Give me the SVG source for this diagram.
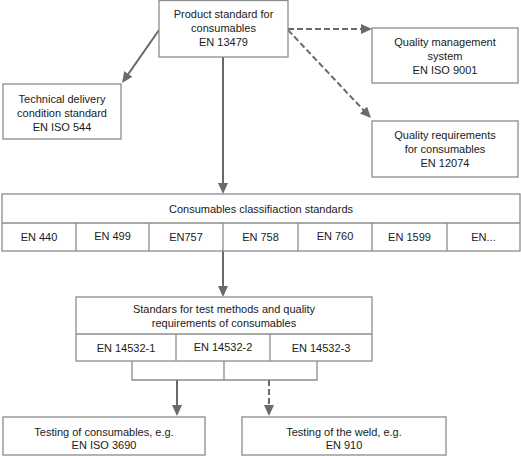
<svg xmlns="http://www.w3.org/2000/svg" width="521" height="456" viewBox="0 0 521 456">
<style>
  .box { fill: #ffffff; stroke: #8c8c8c; stroke-width: 1.3; }
  .div { stroke: #8c8c8c; stroke-width: 1.3; fill: none; }
  .conn { stroke: #6a6a6a; stroke-width: 2; fill: none; }
  .dash { stroke-dasharray: 6,3; }
  text { font-family: "Liberation Sans", Arial, sans-serif; font-size: 11px; fill: #1a1a1a; text-anchor: middle; }
</style>
<defs>
  <marker id="ah" markerUnits="userSpaceOnUse" markerWidth="11" markerHeight="10" refX="2" refY="5" orient="auto">
    <path d="M0,0 L11,5 L0,10 z" fill="#6a6a6a"/>
  </marker>
</defs>
<rect width="521" height="456" fill="#ffffff"/>

<g id="connectors">
  <line class="conn" x1="159" y1="30" x2="127.2" y2="75.6" marker-end="url(#ah)"/>
  <line class="conn dash" x1="288" y1="29" x2="363" y2="29" marker-end="url(#ah)"/>
  <line class="conn dash" x1="288" y1="30" x2="364.8" y2="111.5" marker-end="url(#ah)"/>
  <line class="conn" x1="223" y1="57" x2="223" y2="185" marker-end="url(#ah)"/>
  <line class="conn" x1="223" y1="251" x2="223" y2="288" marker-end="url(#ah)"/>
  <path class="div" d="M132,361 V380 H317 V361 M224,361 V380"/>
  <line class="conn" x1="177" y1="380" x2="177" y2="407" marker-end="url(#ah)"/>
  <line class="conn dash" x1="269" y1="380" x2="269" y2="407" marker-end="url(#ah)"/>
</g>

<g id="product-standard">
  <rect class="box" x="159" y="0.5" width="129" height="56.5"/>
  <text x="223.5" y="18">Product standard for</text>
  <text x="223.5" y="32">consumables</text>
  <text x="223.5" y="46">EN 13479</text>
</g>

<g id="technical-delivery">
  <rect class="box" x="3" y="84" width="118" height="55"/>
  <text x="62" y="103">Technical delivery</text>
  <text x="62" y="117">condition standard</text>
  <text x="62" y="131">EN ISO 544</text>
</g>

<g id="quality-management">
  <rect class="box" x="372" y="28" width="146" height="55"/>
  <text x="445" y="46">Quality management</text>
  <text x="445" y="60">system</text>
  <text x="445" y="74">EN ISO 9001</text>
</g>

<g id="quality-requirements">
  <rect class="box" x="372" y="121" width="146" height="56"/>
  <text x="445" y="139">Quality requirements</text>
  <text x="445" y="153">for consumables</text>
  <text x="445" y="167">EN 12074</text>
</g>

<g id="classification">
  <rect class="box" x="2" y="194" width="518" height="57"/>
  <line class="div" x1="2" y1="223" x2="520" y2="223"/>
  <line class="div" x1="76" y1="223" x2="76" y2="251"/>
  <line class="div" x1="149" y1="223" x2="149" y2="251"/>
  <line class="div" x1="223" y1="223" x2="223" y2="251"/>
  <line class="div" x1="298" y1="223" x2="298" y2="251"/>
  <line class="div" x1="372" y1="223" x2="372" y2="251"/>
  <line class="div" x1="447" y1="223" x2="447" y2="251"/>
  <text x="261" y="213">Consumables classifiaction standards</text>
  <text x="39" y="241">EN 440</text>
  <text x="112.5" y="240">EN 499</text>
  <text x="186" y="241">EN757</text>
  <text x="260.5" y="241">EN 758</text>
  <text x="335" y="240">EN 760</text>
  <text x="409.5" y="241">EN 1599</text>
  <text x="483.5" y="241">EN...</text>
</g>

<g id="test-methods">
  <rect class="box" x="76" y="297" width="296" height="64"/>
  <line class="div" x1="76" y1="334" x2="372" y2="334"/>
  <line class="div" x1="176" y1="334" x2="176" y2="361"/>
  <line class="div" x1="270" y1="334" x2="270" y2="361"/>
  <text x="224" y="313">Standars for test methods and quality</text>
  <text x="224" y="327">requirements of consumables</text>
  <text x="126" y="352">EN 14532-1</text>
  <text x="223" y="351">EN 14532-2</text>
  <text x="321" y="352">EN 14532-3</text>
</g>

<g id="testing-consumables">
  <rect class="box" x="3" y="417" width="202" height="38"/>
  <text x="104" y="436">Testing of consumables, e.g.</text>
  <text x="104" y="449">EN ISO 3690</text>
</g>

<g id="testing-weld">
  <rect class="box" x="242" y="417" width="204" height="38"/>
  <text x="344" y="436">Testing of the weld, e.g.</text>
  <text x="344" y="449">EN 910</text>
</g>
</svg>
